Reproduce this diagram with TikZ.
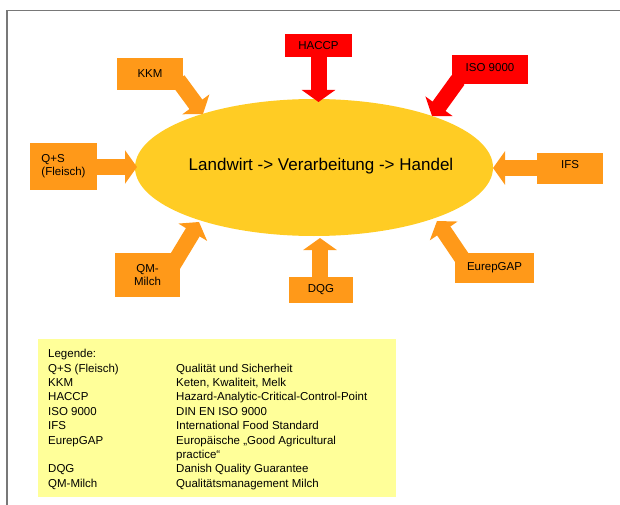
\documentclass[tikz,border=0pt]{standalone}
\usepackage{fontspec}
\setmainfont{Liberation Sans}
\usetikzlibrary{arrows.meta,shapes.geometric}
\definecolor{boxorange}{RGB}{255,153,25}
\definecolor{boxred}{RGB}{255,0,0}
\definecolor{ellyellow}{RGB}{255,204,36}
\definecolor{legyellow}{RGB}{255,255,153}
\definecolor{framegray}{RGB}{120,120,120}
\pgfdeclarelayer{bg}
\pgfdeclarelayer{mid}
\pgfsetlayers{bg,mid,main}
\tikzset{
  lbl/.style={font=\fontsize{11.5}{13}\selectfont, inner sep=0pt, text=black, align=center},
  obox/.style={lbl, fill=boxorange},
  rbox/.style={lbl, fill=boxred},
  barrow/.style={line width=16pt, -{Triangle[width=33pt,length=12pt]}},
}
\begin{document}
\begin{tikzpicture}[x=1pt,y=-1pt]
\useasboundingbox (0,0) rectangle (620,505);
\draw[framegray, line width=1.5pt] (7,505) |- (620,10.5);

% central ellipse
\begin{pgfonlayer}{bg}
\node (ell) [ellipse, fill=ellyellow, inner sep=0pt, minimum width=358pt, minimum height=137pt] at (314,167.5) {};
\end{pgfonlayer}
\node (title) [font=\fontsize{17}{20}\selectfont, inner sep=0pt] at (321,166) {Landwirt -> Verarbeitung -> Handel};

% boxes
\node (haccp) [rbox, minimum width=67pt, minimum height=23pt] at (318.5,45.5) {HACCP};
\node (kkm)   [obox, minimum width=66pt, minimum height=32pt] at (150,74) {KKM};
\node (iso)   [rbox, minimum width=76pt, minimum height=29pt, text depth=5pt] at (490,69.5) {ISO 9000};
\node (qs)    [obox, minimum width=67pt, minimum height=47pt, align=left] at (63.5,166.5) {Q+S\\(Fleisch)};
\node (ifs)   [obox, minimum width=66pt, minimum height=31pt, text depth=8pt] at (570,168.5) {IFS};
\node (eurep) [obox, minimum width=79pt, minimum height=30pt] at (494.5,268) {EurepGAP};
\node (dqg)   [obox, minimum width=64pt, minimum height=26pt] at (321,290) {DQG};
\node (qm)    [obox, minimum width=65pt, minimum height=44pt] at (147.5,275) {QM-\\Milch};

% arrow end points
\coordinate (haccp-s) at (318.5,50);
\coordinate (haccp-t) at (318.5,102);
\coordinate (kkm-s) at (178,80);
\coordinate (kkm-t) at (203,114);
\coordinate (iso-s) at (458,80);
\coordinate (iso-t) at (432,116);
\coordinate (qs-s) at (90,167);
\coordinate (qs-t) at (137,167);
\coordinate (ifs-s) at (545,168);
\coordinate (ifs-t) at (493,168);
\coordinate (eurep-s) at (462,258);
\coordinate (eurep-t) at (437,221);
\coordinate (dqg-s) at (320,285);
\coordinate (dqg-t) at (320,238);
\coordinate (qm-s) at (173,265);
\coordinate (qm-t) at (199,222);

\begin{pgfonlayer}{mid}
\draw[barrow, boxred] (haccp-s) -- (haccp-t);
\draw[barrow, boxred] (iso-s) -- (iso-t);
\draw[barrow, boxorange] (kkm-s) -- (kkm-t);
\draw[barrow, boxorange] (qs-s) -- (qs-t);
\draw[barrow, boxorange] (ifs-s) -- (ifs-t);
\draw[barrow, boxorange] (eurep-s) -- (eurep-t);
\draw[barrow, boxorange] (dqg-s) -- (dqg-t);
\draw[barrow, boxorange] (qm-s) -- (qm-t);
\end{pgfonlayer}

% legend
\node (legend) [fill=legyellow, inner sep=0pt, minimum width=358pt, minimum height=158pt, anchor=north west] at (38,339) {};
\node (legtext) [anchor=north west, inner sep=0pt, font=\fontsize{11.5}{14.4}\selectfont] at (48,347.5) {%
\begin{tabular}{@{}p{128pt}@{}l@{}}
Legende: & \\
Q+S (Fleisch) & Qualität und Sicherheit\\
KKM & Keten, Kwaliteit, Melk\\
HACCP & Hazard-Analytic-Critical-Control-Point\\
ISO 9000 & DIN EN ISO 9000\\
IFS & International Food Standard\\
EurepGAP & Europäische „Good Agricultural\\
 & practice“\\
DQG & Danish Quality Guarantee\\
QM-Milch & Qualitätsmanagement Milch
\end{tabular}};
\end{tikzpicture}
\end{document}
